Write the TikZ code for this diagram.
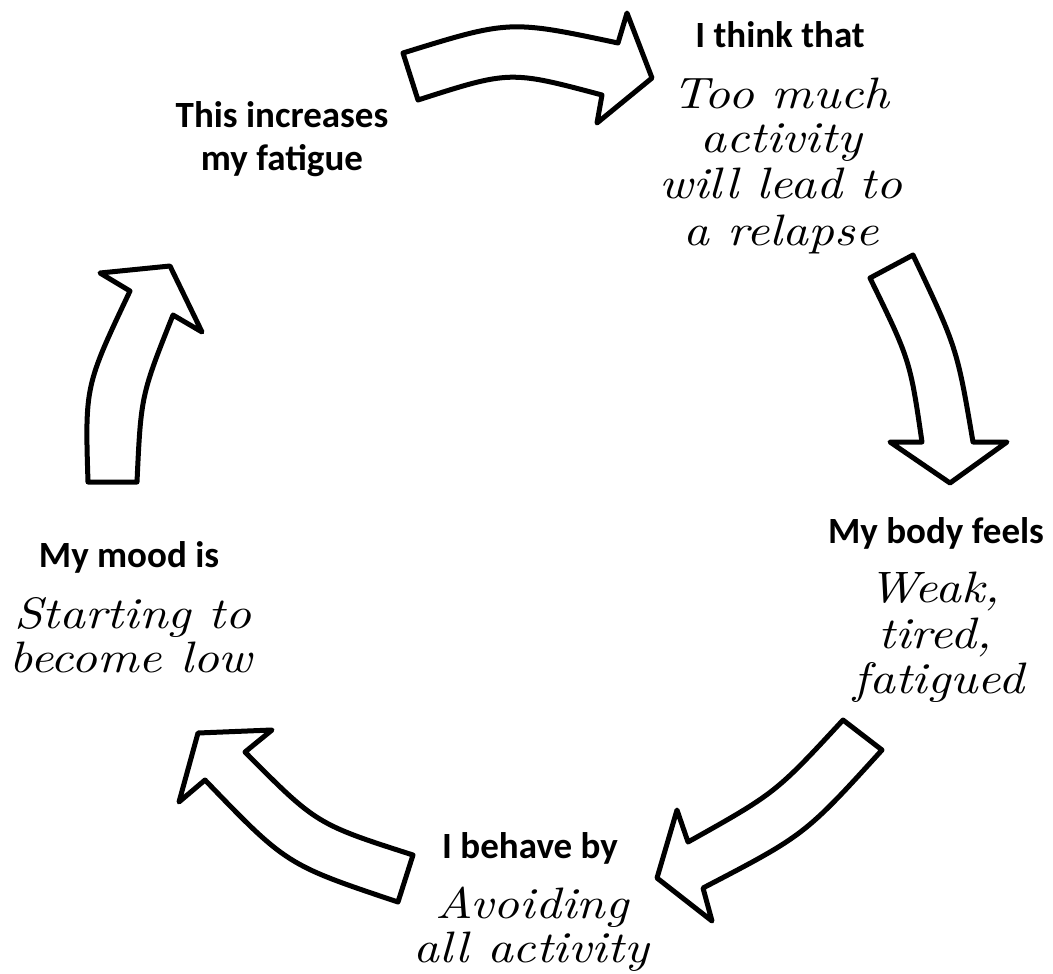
\documentclass[tikz,border=0pt]{standalone}
\usepackage{fontspec}
\setmainfont{Carlito}
\newfontfamily\hwfont{lmroman10-italic.otf}[FakeStretch=1.15]
\tikzset{
  arr/.style={draw=black, line width=5pt, line join=round, fill=white},
  lbl/.style={font=\fontsize{37}{43}\selectfont\bfseries, anchor=base, inner sep=0pt},
  hw/.style={font=\fontsize{44}{50}\hwfont, anchor=base, inner sep=0pt}
}
\begin{document}
\begin{tikzpicture}[x=1pt,y=-1pt]
\useasboundingbox (0,0) rectangle (1053,974);
% arrows
\draw[arr] (403,53) .. controls (509.5,20) .. (618,43) -- (627,13) -- (652,78) -- (597,123) -- (602,95) .. controls (510,70.5) .. (418,100) -- cycle;
\draw[arr] (913,255) .. controls (957,348) .. (973,442) -- (1007,442) -- (950,483) -- (890,442) -- (922,442) .. controls (910,360) .. (870,278) -- cycle;
\draw[arr] (882,750) .. controls (804.7,835) .. (703,888) -- (712,921) -- (657,878) -- (677,810) -- (688,842) .. controls (775.5,793) .. (843,720) -- cycle;
\draw[arr] (413,855) .. controls (316.4,824) .. (245,752) -- (272,730) -- (198,733) -- (179,802) -- (205,780) .. controls (286.5,864.7) .. (398,902) -- cycle;
\draw[arr] (137,482) .. controls (141,395.5) .. (173,315) -- (202,332) -- (170,266) -- (100,273) -- (130,291) .. controls (85,386) .. (88,482) -- cycle;
% texts
\node[lbl] (fa1) at (282,128) {This increases};
\node[lbl] (fa2) at (282,170) {my fatigue};
\node[lbl] (th) at (780,48) {I think that};
\node[hw] (th1) at (781,108) {Too much};
\node[hw] (th2) at (781,152) {activity};
\node[hw] (th3) at (781,198) {will lead to};
\node[hw] (th4) at (781,245) {a relapse};
\node[lbl] (bo) at (936,543) {My body feels};
\node[hw] (bo1) at (934,602) {Weak,};
\node[hw] (bo2) at (935,648) {tired,};
\node[hw] (bo3) at (939,693) {fatigued};
\node[lbl] (mo) at (129,567) {My mood is};
\node[hw] (mo1) at (133,628) {Starting to};
\node[hw] (mo2) at (131,672) {become low};
\node[lbl] (be) at (530,858) {I behave by};
\node[hw] (be1) at (532,918) {Avoiding};
\node[hw] (be2) at (531,962) {all activity};
\end{tikzpicture}
\end{document}
